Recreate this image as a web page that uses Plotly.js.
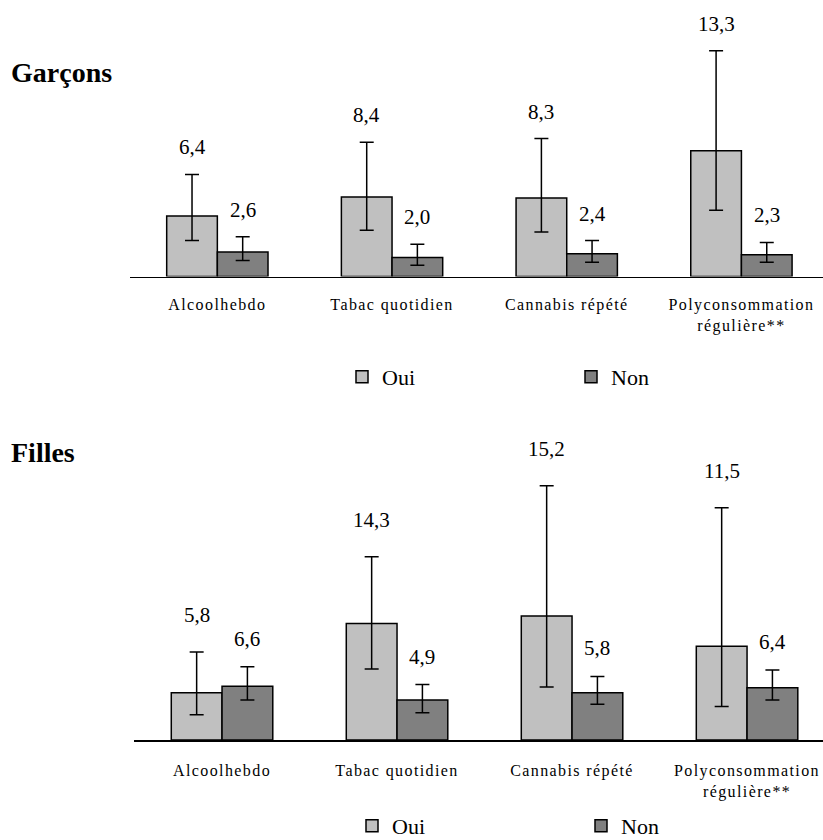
<!DOCTYPE html>
<html>
<head>
<meta charset="utf-8">
<script src="https://cdn.plot.ly/plotly-3.0.1.min.js"></script>
<style>
  html, body { margin: 0; padding: 0; background: #fff; }
  #chart { width: 823px; height: 840px; }
  .xtick text, .x2tick text { letter-spacing: 1.4px; }
</style>
</head>
<body>
<div id="chart"></div>
<script>
const categories = ['Alcoolhebdo', 'Tabac quotidien', 'Cannabis répété', 'Polyconsommation<br>régulière**'];
const seriesNames = ['Oui', 'Non'];

const garconsOui = [6.4, 8.4, 8.3, 13.3];
const garconsOuiLow = [3.8, 4.9, 4.7, 7.0];
const garconsOuiHigh = [10.8, 14.2, 14.6, 23.9];
const garconsNon = [2.6, 2.0, 2.4, 2.3];
const garconsNonLow = [1.7, 1.2, 1.5, 1.5];
const garconsNonHigh = [4.2, 3.4, 3.8, 3.6];

const fillesOui = [5.8, 14.3, 15.2, 11.5];
const fillesOuiLow = [3.1, 8.7, 6.5, 4.1];
const fillesOuiHigh = [10.8, 22.5, 31.2, 28.5];
const fillesNon = [6.6, 4.9, 5.8, 6.4];
const fillesNonLow = [4.9, 3.35, 4.4, 4.9];
const fillesNonHigh = [9.0, 6.8, 7.8, 8.6];

const FONT = 'Liberation Serif, Times New Roman, serif';
const COLORS = ['#c0c0c0', '#808080'];
const BARGAP = 0.42;
const W = 823, H = 840;

function barTrace(name, vals, lo, hi, color, xa, ya, legend) {
  return {
    type: 'bar', name: name, x: categories, y: vals,
    xaxis: xa, yaxis: ya, legend: legend,
    marker: { color: color, line: { color: '#000', width: 1.5 } },
    error_y: {
      type: 'data', symmetric: false,
      array: hi.map((h, i) => h - vals[i]),
      arrayminus: lo.map((l, i) => vals[i] - l),
      color: '#000', thickness: 1.5, width: 7
    },
    hoverinfo: 'skip'
  };
}

const traces = [
  barTrace(seriesNames[0], garconsOui, garconsOuiLow, garconsOuiHigh, COLORS[0], 'x', 'y', 'legend'),
  barTrace(seriesNames[1], garconsNon, garconsNonLow, garconsNonHigh, COLORS[1], 'x', 'y', 'legend'),
  barTrace(seriesNames[0], fillesOui, fillesOuiLow, fillesOuiHigh, COLORS[0], 'x2', 'y2', 'legend2'),
  barTrace(seriesNames[1], fillesNon, fillesNonLow, fillesNonHigh, COLORS[1], 'x2', 'y2', 'legend2')
];

const half = (1 - BARGAP) / 4;
function labels(vals, hi, sign, xref, yref, shift) {
  return vals.map((v, i) => ({
    x: i + sign * half, y: hi[i], xref: xref, yref: yref,
    text: v.toFixed(1).replace('.', ','), showarrow: false,
    yshift: shift, yanchor: 'middle',
    font: { family: FONT, size: 21, color: '#000' }
  }));
}

const annotations = [].concat(
  labels(garconsOui, garconsOuiHigh, -1, 'x', 'y', 27),
  labels(garconsNon, garconsNonHigh, 1, 'x', 'y', 27),
  labels(fillesOui, fillesOuiHigh, -1, 'x2', 'y2', 37),
  labels(fillesNon, fillesNonHigh, 1, 'x2', 'y2', 28),
  [
    { text: '<b>Garçons</b>', xref: 'paper', yref: 'paper', x: 9 / W, y: 1 - 72 / H,
      xanchor: 'left', yanchor: 'middle', showarrow: false,
      font: { family: FONT, size: 28, color: '#000' } },
    { text: '<b>Filles</b>', xref: 'paper', yref: 'paper', x: 9 / W, y: 1 - 452 / H,
      xanchor: 'left', yanchor: 'middle', showarrow: false,
      font: { family: FONT, size: 28, color: '#000' } }
  ]
);

const xCommon = {
  type: 'category', showgrid: false, zeroline: false, ticks: '',
  showline: true, linecolor: '#000', linewidth: 1.5,
  tickfont: { family: FONT, size: 16, color: '#000' },
  fixedrange: true
};
const yCommon = {
  showgrid: false, zeroline: false, showline: false, showticklabels: false,
  ticks: '', fixedrange: true
};

const legendCommon = {
  orientation: 'h', xanchor: 'left', yanchor: 'middle',
  font: { family: FONT, size: 22, color: '#000' },
  entrywidth: 184, entrywidthmode: 'pixels',
  bgcolor: 'rgba(0,0,0,0)', borderwidth: 0
};

const layout = {
  width: W, height: H,
  margin: { l: 0, r: 0, t: 0, b: 0, autoexpand: false },
  paper_bgcolor: '#fff', plot_bgcolor: '#fff',
  barmode: 'group', bargap: BARGAP, bargroupgap: 0,
  showlegend: true,
  xaxis: Object.assign({}, xCommon, { domain: [130 / W, 1], range: [-0.5, 3.467], anchor: 'y', ticklabelstandoff: 13 }),
  yaxis: Object.assign({}, yCommon, { domain: [1 - 276.5 / H, 1], range: [0, 29.26], anchor: 'x' }),
  xaxis2: Object.assign({}, xCommon, { domain: [134 / W, 1], range: [-0.503, 3.434], anchor: 'y2', ticklabelstandoff: 15 }),
  yaxis2: Object.assign({}, yCommon, { domain: [1 - 740 / H, 1 - 440 / H], range: [0, 36.81], anchor: 'x2' }),
  legend: Object.assign({}, legendCommon, { x: 342 / W, y: 1 - 377 / H }),
  legend2: Object.assign({}, legendCommon, { x: 352 / W, y: 1 - 826 / H }),
  annotations: annotations
};

Plotly.newPlot('chart', traces, layout, { staticPlot: true, displayModeBar: false });
</script>
</body>
</html>
